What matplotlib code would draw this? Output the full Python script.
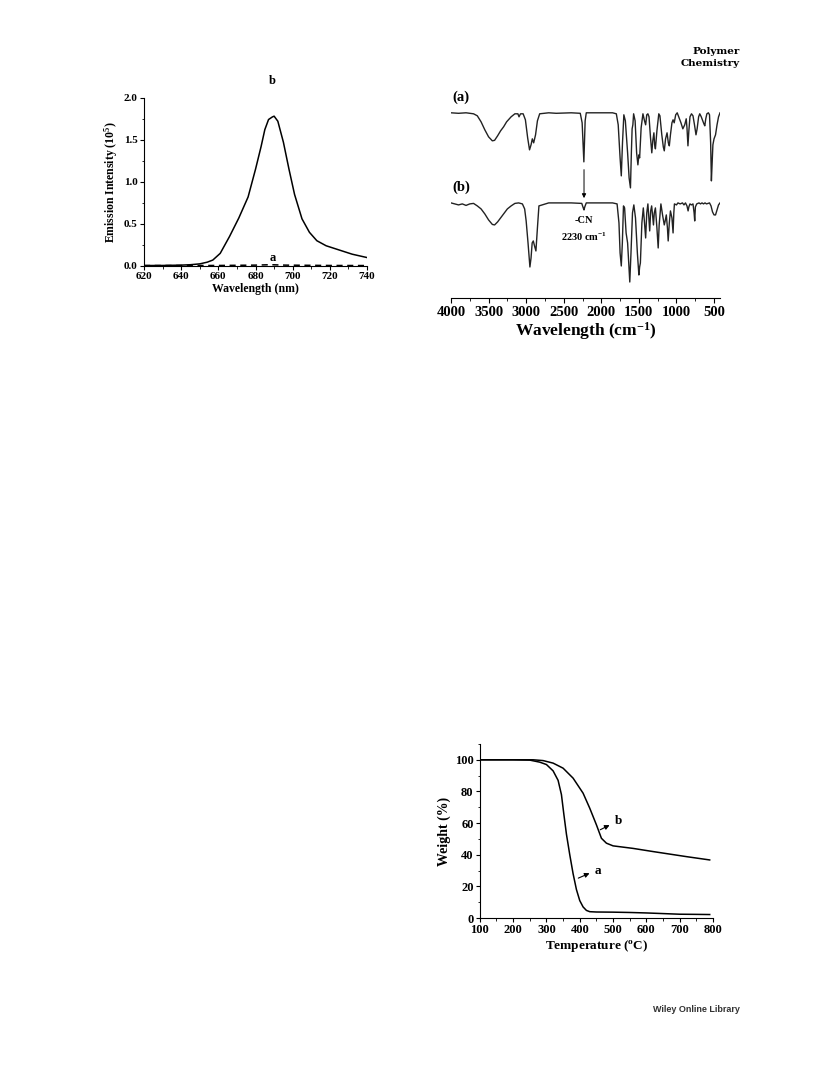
import numpy as np
import matplotlib
matplotlib.use("Agg")
import matplotlib.pyplot as plt
from matplotlib.ticker import MultipleLocator

plt.rcParams['font.family'] = ['Liberation Serif', 'DejaVu Serif']
plt.rcParams['font.weight'] = 'bold'
plt.rcParams['axes.labelweight'] = 'bold'
plt.rcParams['mathtext.fontset'] = 'custom'
plt.rcParams['mathtext.rm'] = 'Liberation Serif:bold'
plt.rcParams['mathtext.it'] = 'Liberation Serif:bold'
plt.rcParams['mathtext.bf'] = 'Liberation Serif:bold'

# emission spectra (intensity in 10^5)
em_wl_b = [620, 630, 640, 645, 650, 654, 657, 661, 666, 671, 676, 680, 683, 685, 687, 689, 690,
           692, 695, 698, 701, 705, 709, 713, 718, 725, 732, 740]
em_b = [0.005, 0.006, 0.01, 0.015, 0.025, 0.045, 0.07, 0.15, 0.35, 0.57, 0.82, 1.15, 1.42,
        1.62, 1.74, 1.77, 1.78, 1.72, 1.47, 1.15, 0.85, 0.56, 0.40, 0.30, 0.24, 0.19, 0.14, 0.10]
em_wl_a = [620, 660, 680, 688, 696, 720, 740]
em_a = [0.005, 0.006, 0.01, 0.015, 0.01, 0.006, 0.005]

# FTIR spectra (transmittance, arbitrary %)
ir_wn_a = [4000, 3900, 3800, 3700, 3650, 3600, 3550, 3500, 3450, 3420, 3380, 3340, 3300, 3260,
           3200, 3150, 3110, 3095, 3075, 3040, 3010, 2980, 2955, 2935, 2918, 2900, 2875, 2850,
           2820, 2700, 2600, 2400, 2280, 2255, 2232, 2215, 2200, 2000, 1850, 1800, 1775, 1750,
           1734, 1718, 1700, 1680, 1650, 1630, 1612, 1600, 1590, 1580, 1570, 1550, 1530, 1513,
           1500, 1490, 1470, 1446, 1425, 1410, 1395, 1380, 1365, 1345, 1328, 1315, 1300, 1290,
           1280, 1260, 1235, 1220, 1195, 1175, 1162, 1145, 1125, 1108, 1095, 1080, 1060, 1045,
           1030, 1010, 990, 970, 940, 915, 890, 870, 860, 847, 835, 820, 800, 780, 760, 740,
           725, 705, 690, 670, 650, 635, 623, 610, 595, 575, 560, 545, 535, 525, 515, 500, 480,
           460, 440, 420]
ir_a = [100, 99.5, 100, 99, 97, 91, 83, 76, 72, 72.5, 77, 82, 86, 91, 96, 99, 99, 96, 99, 99,
        93, 75, 63, 68, 74, 70, 78, 92, 99, 100, 99.5, 100, 99.5, 90, 51, 92, 100, 100, 100, 99,
        88, 55, 37, 70, 98, 92, 60, 35, 25, 60, 84, 88, 99, 92, 60, 48, 58, 55, 85, 99, 92, 88,
        98, 99, 96, 75, 60, 72, 80, 68, 64, 82, 99, 97, 78, 66, 62, 74, 80, 70, 67, 78, 90, 93,
        90, 98, 100, 96, 90, 84, 88, 94, 85, 67, 82, 96, 99, 97, 88, 78, 84, 96, 99, 96, 92, 89,
        87, 94, 99, 100, 98, 70, 32, 50, 68, 74, 78, 88, 96, 100]
ir_wn_b = [4000, 3950, 3900, 3850, 3800, 3750, 3700, 3650, 3600, 3550, 3500, 3450, 3420, 3380,
           3340, 3300, 3250, 3200, 3150, 3100, 3050, 3020, 3000, 2975, 2950, 2935, 2920, 2905,
           2885, 2870, 2850, 2830, 2700, 2400, 2260, 2240, 2230, 2220, 2200, 2000, 1850, 1790,
           1765, 1750, 1734, 1720, 1705, 1690, 1670, 1650, 1635, 1621, 1605, 1585, 1567, 1545,
           1520, 1500, 1490, 1480, 1460, 1441, 1425, 1410, 1395, 1380, 1368, 1356, 1343, 1330,
           1318, 1306, 1295, 1280, 1260, 1243, 1230, 1207, 1185, 1162, 1150, 1135, 1120, 1110,
           1095, 1080, 1060, 1045, 1035, 1027, 1000, 980, 950, 920, 900, 880, 860, 845, 835,
           820, 800, 780, 765, 757, 748, 730, 700, 680, 660, 640, 620, 600, 560, 540, 520, 500,
           480, 460, 440, 420]
ir_b = [100, 99, 98, 99, 97.5, 99, 99.5, 97, 94, 89, 83, 78.5, 78, 81, 85, 89, 94, 97, 99.5,
        100, 99, 94, 82, 60, 36, 45, 60, 62, 56, 52, 75, 97, 100, 100, 99.5, 95, 93, 96, 100,
        100, 100, 99, 80, 50, 37, 60, 97, 95, 70, 60, 40, 21, 50, 90, 98, 85, 50, 28, 36, 40,
        80, 95, 80, 65, 90, 99, 86, 72, 92, 97, 88, 78, 90, 95, 75, 55, 78, 99, 88, 78, 82, 88,
        75, 62, 80, 92, 85, 70, 90, 99, 98, 100, 99, 100, 98, 100, 97, 92, 96, 99, 98, 99, 90,
        82, 96, 99, 100, 99, 100, 99, 100, 99, 100, 97, 91, 88, 88, 93, 98, 100]

# TGA curves (weight %)
tga_t_a = [100, 200, 250, 280, 300, 320, 335, 345, 352, 360, 370, 380, 390, 400, 410, 420, 430,
           450, 500, 550, 600, 650, 700, 750, 790]
tga_a = [100, 100, 99.8, 98.5, 97, 93, 87, 78, 66, 53, 40, 28, 18, 11, 7, 4.8, 4, 3.8, 3.7,
         3.5, 3.2, 2.8, 2.4, 2.3, 2.2]
tga_t_b = [100, 200, 260, 290, 320, 350, 380, 410, 430, 450, 465, 480, 500, 560, 620, 720, 790]
tga_b = [100, 100, 100, 99.5, 97.9, 94.7, 88.4, 78.9, 69.4, 58.9, 50.4, 47.3, 45.6, 44, 42,
         38.8, 36.7]

fig = plt.figure(figsize=(8.16, 10.79), dpi=100)

# ---- emission spectra ----
ax1 = fig.add_axes([0.1765, 0.7535, 0.2733, 0.156])
ax1.plot(em_wl_b, em_b, color='black', lw=1.1)
ax1.plot(em_wl_a, em_a, color='black', lw=1.1, ls=(0, (4, 3)))
ax1.set_xlim(620, 740)
ax1.set_ylim(0, 2.0)
ax1.xaxis.set_major_locator(MultipleLocator(20))
ax1.xaxis.set_minor_locator(MultipleLocator(10))
ax1.yaxis.set_major_locator(MultipleLocator(0.5))
ax1.yaxis.set_minor_locator(MultipleLocator(0.25))
ax1.yaxis.set_major_formatter(matplotlib.ticker.FormatStrFormatter('%.1f'))
for s in ['top', 'right']:
    ax1.spines[s].set_visible(False)
ax1.tick_params(which='major', length=3, width=0.8, labelsize=8, pad=1.5)
ax1.tick_params(which='minor', length=1.8, width=0.6)
ax1.set_xlabel('Wavelength (nm)', fontsize=8.5, labelpad=1)
ax1.set_ylabel('Emission Intensity (10$^{5}$)', fontsize=8.5, labelpad=3)
ax1.text(689, 2.2, 'b', ha='center', va='center', fontsize=9, clip_on=False)
ax1.text(689, 0.1, 'a', ha='center', va='center', fontsize=9)

# ---- FTIR spectra ----
ax2 = fig.add_axes([0.5527, 0.7238, 0.3297, 0.193])
ax2.plot(ir_wn_a, np.array(ir_a) + 90, color='#222222', lw=1.0)
ax2.plot(ir_wn_b, ir_b, color='#222222', lw=1.0)
ax2.set_xlim(4000, 420)
ax2.set_ylim(5, 213)
ax2.xaxis.set_major_locator(MultipleLocator(500))
ax2.xaxis.set_minor_locator(MultipleLocator(250))
for s in ['top', 'right', 'left']:
    ax2.spines[s].set_visible(False)
ax2.set_yticks([])
ax2.tick_params(which='major', length=3.5, width=0.8, labelsize=10.5, pad=2)
ax2.tick_params(which='minor', length=2, width=0.6)
ax2.set_xlabel('Wavelength (cm$^{-1}$)', fontsize=12.5, labelpad=1)
ax2.text(3985, 206, '(a)', ha='left', va='center', fontsize=10.5)
ax2.text(3985, 116, '(b)', ha='left', va='center', fontsize=10.5)
ax2.annotate('', xy=(2230, 102), xytext=(2230, 136),
             arrowprops=dict(arrowstyle='-|>', color='black', lw=0.7, mutation_scale=6))
ax2.text(2230, 82, '-CN', ha='center', va='center', fontsize=7.5)
ax2.text(2230, 66, '2230 cm$^{-1}$', ha='center', va='center', fontsize=7.5)

# ---- TGA ----
ax3 = fig.add_axes([0.588, 0.1492, 0.2858, 0.1613])
ax3.plot(tga_t_a, tga_a, color='black', lw=1.1)
ax3.plot(tga_t_b, tga_b, color='black', lw=1.1)
ax3.set_xlim(100, 800)
ax3.set_ylim(0, 110)
ax3.xaxis.set_major_locator(MultipleLocator(100))
ax3.xaxis.set_minor_locator(MultipleLocator(50))
ax3.yaxis.set_major_locator(MultipleLocator(20))
ax3.yaxis.set_minor_locator(MultipleLocator(10))
for s in ['top', 'right']:
    ax3.spines[s].set_visible(False)
ax3.tick_params(which='major', length=3, width=0.8, labelsize=9, pad=1.5)
ax3.tick_params(which='minor', length=1.8, width=0.6)
ax3.set_xlabel('Temperature ($^{o}$C)', fontsize=9.5, labelpad=1)
ax3.set_ylabel('Weight (%)', fontsize=10, labelpad=3)
ax3.annotate('', xy=(497, 59.5), xytext=(454, 55),
             arrowprops=dict(arrowstyle='-|>', color='black', lw=0.8, mutation_scale=7))
ax3.text(505, 61, 'b', ha='left', va='center', fontsize=9.5)
ax3.annotate('', xy=(437, 29), xytext=(388, 24.5),
             arrowprops=dict(arrowstyle='-|>', color='black', lw=0.8, mutation_scale=7))
ax3.text(445, 30, 'a', ha='left', va='center', fontsize=9.5)

# page furniture
fig.text(740 / 816, 1 - 52 / 1079, 'Polymer', ha='right', va='center', fontsize=7.5,
         family='DejaVu Serif', weight='bold')
fig.text(740 / 816, 1 - 64 / 1079, 'Chemistry', ha='right', va='center', fontsize=7.5,
         family='DejaVu Serif', weight='bold')
fig.text(740 / 816, 1 - 1010 / 1079, 'Wiley Online Library', ha='right', va='center',
         fontsize=6.5, family='Liberation Sans', weight='bold', color='#333333')

fig.savefig('out.png', dpi=100)
